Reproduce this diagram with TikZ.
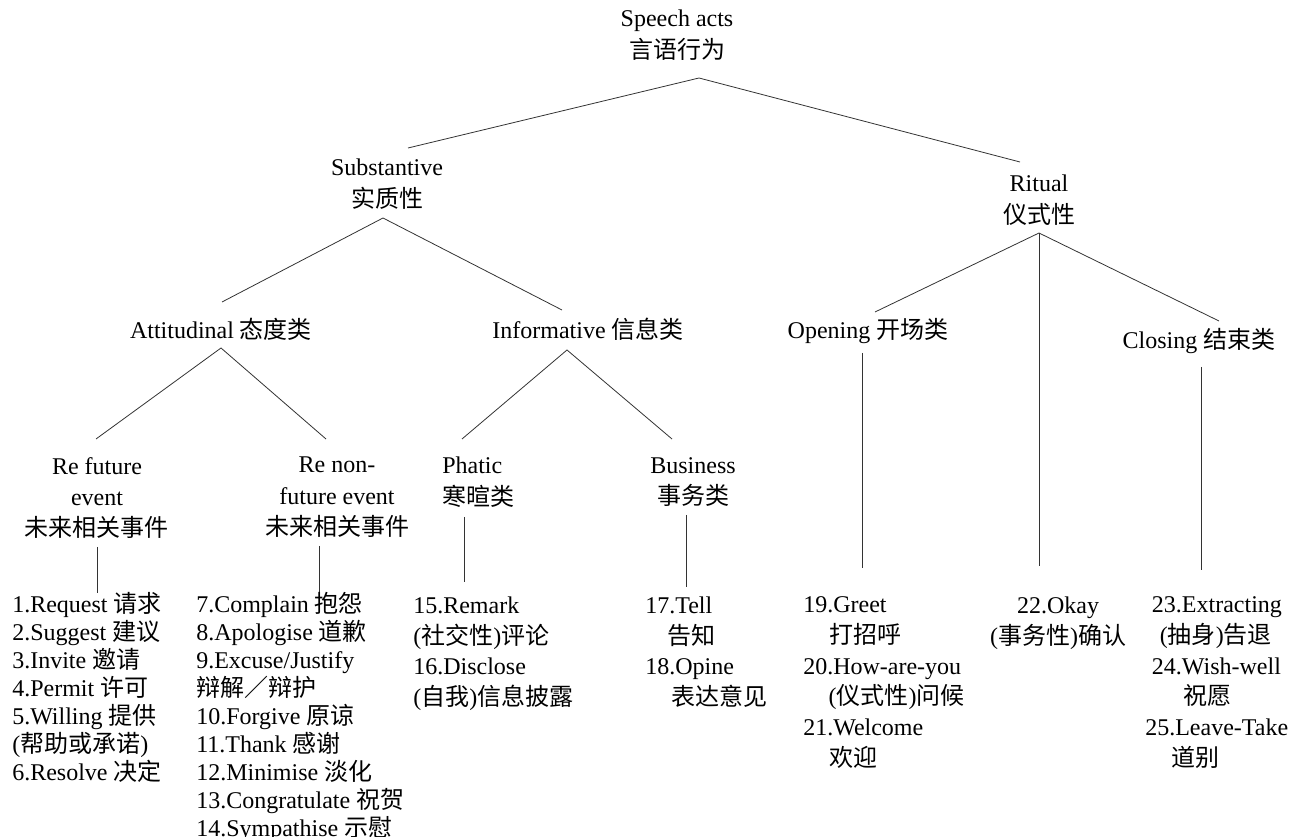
\documentclass[tikz,border=0pt]{standalone}
\usepackage{fontspec}
\setmainfont{Liberation Serif}
\newfontfamily\cjk{Noto Sans CJK SC}
\newcommand{\zh}[1]{{\cjk #1}}
\usepackage{tikz}

\begin{document}
\begin{tikzpicture}[x=0.75pt, y=-0.75pt,
	every node/.style={inner sep=0pt, font=\fontsize{18}{23.5}\selectfont},
	head/.style={anchor=north, align=center},
	leaf/.style={anchor=north west, align=left},
	tight/.style={font=\fontsize{18}{21}\selectfont},
	loose/.style={font=\fontsize{18}{23}\selectfont},
	branch/.style={line width=0.6pt, draw=black!80}]

	\useasboundingbox (0,0) rectangle (1293,837);

	% fork points and line ends
	\coordinate (acts-b) at (699,78);
	\coordinate (subst-t) at (408,148);
	\coordinate (ritual-t) at (1020,162);
	\coordinate (subst-b) at (383,218);
	\coordinate (attit-t) at (222,302);
	\coordinate (inform-t) at (562,310);
	\coordinate (ritual-b) at (1039,233);
	\coordinate (open-t) at (875,312);
	\coordinate (okay-t) at (1039,566);
	\coordinate (close-t) at (1219,321);
	\coordinate (attit-b) at (221,348);
	\coordinate (refut-t) at (96,439);
	\coordinate (renon-t) at (326,439);
	\coordinate (inform-b) at (567,350);
	\coordinate (phatic-t) at (462,439);
	\coordinate (busi-t) at (672,439);
	\coordinate (open-b) at (862,353);
	\coordinate (greet-t) at (862,568);
	\coordinate (close-b) at (1201,367);
	\coordinate (extr-t) at (1201,570);
	\coordinate (refut-b) at (97,547);
	\coordinate (req-t) at (97,593);
	\coordinate (renon-b) at (319,546);
	\coordinate (compl-t) at (319,593);
	\coordinate (phatic-b) at (464,517);
	\coordinate (remark-t) at (464,582);
	\coordinate (busi-b) at (686,515);
	\coordinate (tell-t) at (686,587);

	\draw[branch] (subst-t) -- (acts-b) -- (ritual-t);
	\draw[branch] (attit-t) -- (subst-b) -- (inform-t);
	\draw[branch] (open-t) -- (ritual-b) -- (close-t);
	\draw[branch] (ritual-b) -- (okay-t);
	\draw[branch] (refut-t) -- (attit-b) -- (renon-t);
	\draw[branch] (phatic-t) -- (inform-b) -- (busi-t);
	\draw[branch] (open-b) -- (greet-t);
	\draw[branch] (close-b) -- (extr-t);
	\draw[branch] (refut-b) -- (req-t);
	\draw[branch] (renon-b) -- (compl-t);
	\draw[branch] (phatic-b) -- (remark-t);
	\draw[branch] (busi-b) -- (tell-t);

	% categories
	\node[head] (acts) at (677,10) {Speech acts\\\zh{言语行为}};
	\node[head] (subst) at (387,159) {Substantive\\\zh{实质性}};
	\node[head] (ritual) at (1039,175) {Ritual\\\zh{仪式性}};
	\node[head] (attit) at (221,318) {Attitudinal \zh{态度类}};
	\node[head] (inform) at (588,318) {Informative \zh{信息类}};
	\node[head] (open) at (868,318) {Opening \zh{开场类}};
	\node[head] (close) at (1199,328) {Closing \zh{结束类}};
	\node[head] (refut) at (97,457) {Re future\\event\\\zh{未来相关事件}};
	\node[head] (renon) at (337,457) {Re non-\\future event\\\zh{未来相关事件}};
	\node[leaf] (phatic) at (442,457) {Phatic\\\zh{寒暄类}};
	\node[head] (busi) at (693,457) {Business\\\zh{事务类}};

	% speech acts
	\node[leaf, tight] (req) at (12,592.5) {1.Request \zh{请求}\\
		2.Suggest \zh{建议}\\
		3.Invite \zh{邀请}\\
		4.Permit \zh{许可}\\
		5.Willing \zh{提供}\\
		(\zh{帮助或承诺})\\
		6.Resolve \zh{决定}};
	\node[leaf, tight] (compl) at (196,592.5) {7.Complain \zh{抱怨}\\
		8.Apologise \zh{道歉}\\
		9.Excuse/Justify\\
		\zh{辩解／辩护}\\
		10.Forgive \zh{原谅}\\
		11.Thank \zh{感谢}\\
		12.Minimise \zh{淡化}\\
		13.Congratulate \zh{祝贺}\\
		14.Sympathise \zh{示慰}};
	\node[leaf, loose] (remark) at (413,596.6) {15.Remark\\
		(\zh{社交性})\zh{评论}\\
		16.Disclose\\
		(\zh{自我})\zh{信息披露}};
	\node[leaf, loose] (tell) at (645,596.6) {17.Tell\\
		\hspace*{17pt}\zh{告知}\\
		18.Opine\\
		\hspace*{19.5pt}\zh{表达意见}};
	\node[leaf, loose] (greet) at (803,596.6) {19.Greet\\
		\hspace*{20pt}\zh{打招呼}\\
		20.How-are-you\\
		\hspace*{19pt}(\zh{仪式性})\zh{问候}\\
		21.Welcome\\
		\hspace*{20pt}\zh{欢迎}};
	\node[head, loose] (okay) at (1058,596.6) {22.Okay\\
		(\zh{事务性})\zh{确认}};
	\node[leaf, loose] (extr) at (1145,596.6) {\hspace*{5pt}23.Extracting\\
		\hspace*{11pt}(\zh{抽身})\zh{告退}\\
		\hspace*{5pt}24.Wish-well\\
		\hspace*{28.5pt}\zh{祝愿}\\
		25.Leave-Take\\
		\hspace*{20pt}\zh{道别}};

\end{tikzpicture}
\end{document}
